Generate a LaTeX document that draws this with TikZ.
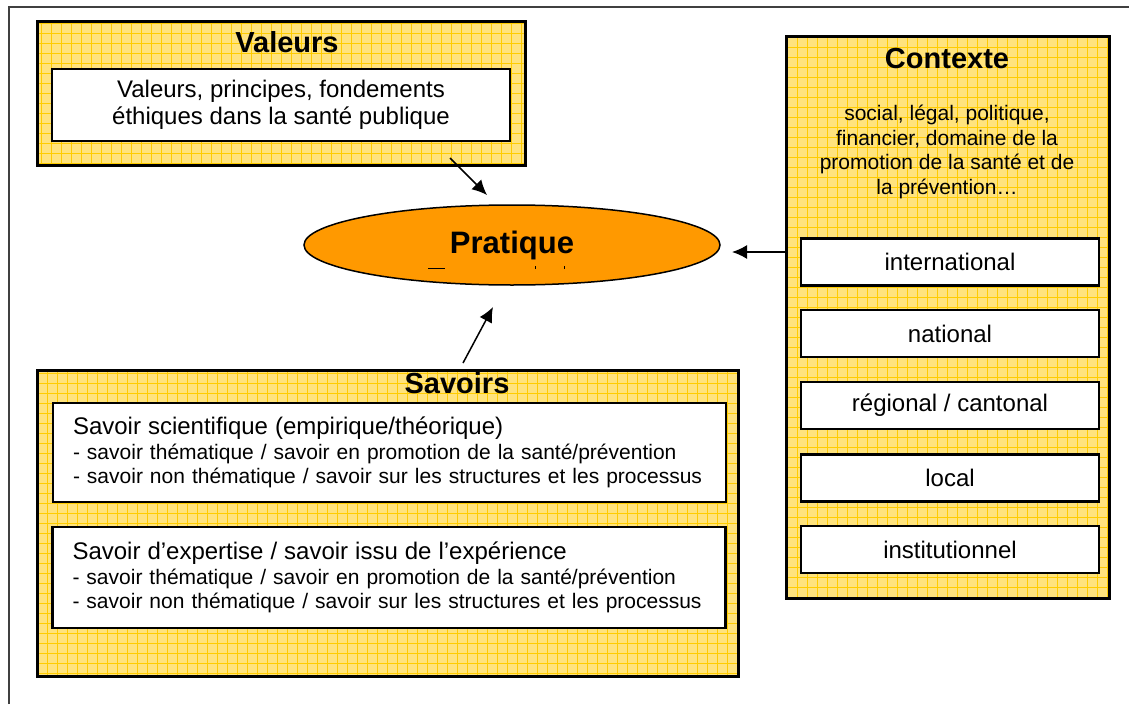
\documentclass[tikz,border=0pt]{standalone}
\usepackage{fontspec}
\setmainfont{Liberation Sans}
\usetikzlibrary{arrows.meta,shapes.geometric}
\definecolor{panelfill}{RGB}{255,227,125}
\definecolor{panelgrid}{RGB}{255,204,0}
\definecolor{pratiquefill}{RGB}{255,153,0}

\begin{document}
\begin{tikzpicture}[x=1pt,y=-1pt]
            \tikzset{
                panel/.style={draw, line width=3pt, fill=panelfill, inner sep=0pt,
                    path picture={\draw[panelgrid, line width=0.9pt]
                        (path picture bounding box.north west) grid[step=10pt]
                        (path picture bounding box.south east);}},
                title/.style={font=\bfseries\fontsize{29}{32}\selectfont, inner sep=0pt},
                card/.style={draw, line width=2.5pt, fill=white, inner sep=0pt,
                    font=\fontsize{24}{27}\selectfont},
                level/.style={card, minimum width=298pt, minimum height=47pt},
                savoir/.style={card, inner xsep=20pt, text width=633pt, align=left,
                    font=\fontsize{21}{24}\selectfont},
                edge/.style={-{Latex[length=15pt,width=14pt]}, line width=1.5pt}
            }
            \useasboundingbox (0,0) rectangle (1129,704);
            % frame
            \draw[line width=2pt, black!75] (8.5,704) -- (8.5,7) -- (1129,7);

            % valeurs
            \node[panel, minimum width=488pt, minimum height=144pt] (valeurs) at (281,93) {};
            \node[title] (valeurs-t) at (287,42) {Valeurs};
            \node[card, minimum width=458pt, minimum height=72pt, align=center] (principes) at (281,105)
                {Valeurs, principes, fondements\\éthiques dans la santé publique};

            % contexte
            \node[panel, minimum width=323pt, minimum height=562pt] (contexte) at (947.5,317) {};
            \node[title] (contexte-t) at (947,59) {Contexte};
            \node[align=center, inner sep=0pt, font=\fontsize{21}{24.5}\selectfont] (domaines) at (947,152)
                {social, légal, politique,\\financier, domaine de la\\promotion de la santé et de\\la prévention…};
            \node[level] (intl) at (950,262) {international};
            \node[level] (natl) at (950,333.5) {national};
            \node[level] (reg) at (950,405.5) {régional / cantonal};
            \node[level] (loc) at (950,478) {local};
            \node[level] (inst) at (950,549.5) {institutionnel};

            % savoirs
            \node[panel, minimum width=701pt, minimum height=306pt] (savoirs) at (387.5,523) {};
            \node[title] (savoirs-t) at (457,383) {Savoirs};
            \node[savoir, minimum height=99pt] (scient) at (389.5,452.5)
                {{\fontsize{24}{26}\selectfont Savoir scientifique (empirique/théorique)}\\[1pt]
                 - savoir thématique / savoir en promotion de la santé/prévention\\
                 - savoir non thématique / savoir sur les structures et les processus};
            \node[savoir, minimum height=101pt] (expert) at (389,577.5)
                {{\fontsize{24}{26}\selectfont Savoir d’expertise / savoir issu de l’expérience}\\[1pt]
                 - savoir thématique / savoir en promotion de la santé/prévention\\
                 - savoir non thématique / savoir sur les structures et les processus};

            % pratique
            \node[ellipse, draw, line width=1.5pt, fill=pratiquefill, minimum width=416pt,
                minimum height=80pt, inner sep=0pt, font=\bfseries\fontsize{31}{34}\selectfont]
                (pratique) at (512,245) {Pratique};
            \draw[line width=1pt] (428,268) -- (445,268);
            \draw[line width=1pt] (535,266) -- (535,269);
            \draw[line width=1pt] (564,266) -- (564,269);

            %edges
            \coordinate (v-out) at (450,158);
            \coordinate (p-top) at (487,195);
            \coordinate (s-out) at (463,363);
            \coordinate (p-bottom) at (493,307);
            \coordinate (c-out) at (788,252);
            \coordinate (p-right) at (732,252);
            \draw[edge] (v-out) -- (p-top);
            \draw[edge] (s-out) -- (p-bottom);
            \draw[edge] (c-out) -- (p-right);
\end{tikzpicture}
\end{document}
